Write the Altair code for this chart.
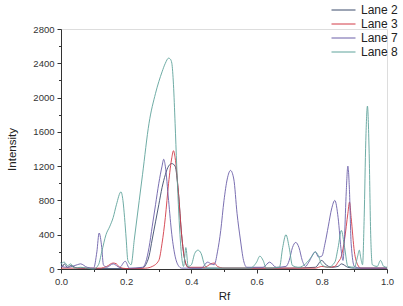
import altair as alt
import pandas as pd

# Lane 2 (dark navy)
lane2_x = [0.0, 0.005, 0.01, 0.02, 0.03, 0.05, 0.10, 0.20, 0.25, 0.26, 0.27, 0.28, 0.29, 0.30, 0.31, 0.32, 0.33, 0.34, 0.35, 0.36, 0.37, 0.38, 0.39, 0.40, 0.50, 0.70, 0.78, 0.80, 0.81, 0.83, 0.85, 0.86, 0.88, 0.90, 0.95, 1.0]
lane2_y = [80, 30, 60, 20, 40, 10, 5, 5, 10, 50, 150, 350, 550, 750, 950, 1100, 1200, 1230, 1200, 900, 400, 100, 20, 10, 10, 10, 20, 100, 60, 20, 30, 60, 20, 10, 10, 10]

# Lane 3 (red)
lane3_x = [0.0, 0.12, 0.14, 0.16, 0.17, 0.18, 0.20, 0.26, 0.28, 0.30, 0.31, 0.32, 0.33, 0.34, 0.345, 0.35, 0.36, 0.37, 0.38, 0.39, 0.44, 0.46, 0.47, 0.48, 0.50, 0.78, 0.80, 0.82, 0.84, 0.85, 0.86, 0.87, 0.88, 0.885, 0.89, 0.90, 0.91, 0.92, 1.0]
lane3_y = [10, 10, 30, 70, 60, 20, 5, 10, 30, 100, 300, 600, 1000, 1300, 1380, 1300, 900, 400, 100, 20, 20, 60, 70, 30, 10, 10, 30, 20, 30, 80, 150, 350, 650, 780, 600, 200, 50, 10, 10]

# Lane 7 (purple-blue)
lane7_x = [0.0, 0.02, 0.05, 0.06, 0.08, 0.10, 0.11, 0.117, 0.125, 0.13, 0.14, 0.16, 0.18, 0.197, 0.21, 0.25, 0.26, 0.27, 0.28, 0.29, 0.30, 0.31, 0.315, 0.32, 0.33, 0.34, 0.35, 0.36, 0.37, 0.43, 0.45, 0.46, 0.47, 0.48, 0.49, 0.50, 0.51, 0.52, 0.53, 0.54, 0.55, 0.56, 0.57, 0.62, 0.64, 0.66, 0.69, 0.70, 0.71, 0.72, 0.73, 0.74, 0.75, 0.76, 0.78, 0.79, 0.80, 0.81, 0.82, 0.83, 0.84, 0.85, 0.86, 0.865, 0.87, 0.875, 0.88, 0.885, 0.89, 0.90, 0.92, 1.0]
lane7_y = [30, 20, 50, 60, 20, 10, 200, 420, 250, 50, 20, 60, 20, 90, 10, 20, 80, 250, 500, 750, 1000, 1200, 1280, 1200, 800, 400, 150, 40, 10, 10, 80, 60, 50, 200, 450, 800, 1050, 1150, 1050, 650, 350, 100, 20, 20, 80, 20, 30, 100, 250, 310, 250, 100, 30, 80, 200, 140, 150, 300, 500, 700, 800, 600, 200, 100, 400, 900, 1200, 900, 300, 30, 10, 10]

# Lane 8 (teal)
lane8_x = [0.0, 0.01, 0.02, 0.03, 0.04, 0.06, 0.08, 0.10, 0.115, 0.125, 0.138, 0.15, 0.16, 0.17, 0.184, 0.19, 0.195, 0.20, 0.205, 0.215, 0.225, 0.24, 0.25, 0.27, 0.29, 0.31, 0.32, 0.33, 0.335, 0.34, 0.345, 0.35, 0.355, 0.36, 0.365, 0.37, 0.376, 0.383, 0.39, 0.40, 0.41, 0.42, 0.43, 0.44, 0.45, 0.50, 0.58, 0.60, 0.61, 0.62, 0.63, 0.67, 0.68, 0.69, 0.70, 0.71, 0.73, 0.75, 0.77, 0.78, 0.79, 0.80, 0.82, 0.84, 0.85, 0.86, 0.87, 0.88, 0.90, 0.91, 0.915, 0.92, 0.925, 0.93, 0.935, 0.94, 0.945, 0.95, 0.955, 0.97, 0.98, 0.99, 1.0]
lane8_y = [60, 80, 40, 60, 10, 20, 10, 0, 50, 200, 400, 500, 600, 750, 900, 800, 600, 350, 100, 50, 350, 800, 1100, 1700, 2050, 2300, 2400, 2460, 2450, 2400, 2150, 1700, 1200, 750, 400, 150, 30, 250, 30, 50, 180, 220, 180, 50, 10, 10, 10, 80, 150, 100, 10, 20, 250, 400, 250, 40, 20, 60, 150, 200, 150, 50, 20, 80, 250, 450, 250, 30, 20, 150, 220, 120, 50, 600, 1500, 1900, 1400, 400, 50, 30, 100, 30, 20]

lanes = ["Lane 2", "Lane 3", "Lane 7", "Lane 8"]
colors = ["#3b4a6b", "#d23a46", "#6b5fa8", "#5fa39b"]

frames = []
for name, xs, ys in [("Lane 2", lane2_x, lane2_y), ("Lane 3", lane3_x, lane3_y),
                     ("Lane 7", lane7_x, lane7_y), ("Lane 8", lane8_x, lane8_y)]:
    frames.append(pd.DataFrame({"Rf": xs, "Intensity": ys, "Lane": name}))
df = pd.concat(frames, ignore_index=True)

font = "Liberation Sans"

chart = alt.Chart(df).mark_line(strokeWidth=0.9, interpolate="monotone").encode(
    x=alt.X("Rf:Q", title="Rf",
            scale=alt.Scale(domain=[0, 1], nice=False),
            axis=alt.Axis(values=[0, 0.1, 0.2, 0.3, 0.4, 0.5, 0.6, 0.7, 0.8, 0.9, 1.0],
                          labelExpr="round(datum.value*10) % 2 == 0 ? format(datum.value, '.1f') : ''",
                          tickSize={"condition": {"test": "round(datum.value*10) % 2 == 0", "value": 4}, "value": 2.5},
                          labelFlush=False,
                          grid=False, domainColor="#333", tickColor="#333",
                          labelColor="#333", labelFontSize=9.5, labelFont=font,
                          titleFont=font, titleFontSize=11.5, titleFontWeight="normal",
                          titleColor="#222", titlePadding=5, labelPadding=3)),
    y=alt.Y("Intensity:Q", title="Intensity",
            scale=alt.Scale(domain=[0, 2800], nice=False),
            axis=alt.Axis(values=list(range(0, 2801, 200)),
                          labelExpr="datum.value % 400 == 0 ? datum.label : ''",
                          format="d", labelFlush=False,
                          tickSize={"condition": {"test": "datum.value % 400 == 0", "value": 4}, "value": 2.5},
                          grid=False, domainColor="#333", tickColor="#333",
                          labelColor="#333", labelFontSize=9.5, labelFont=font,
                          titleFont=font, titleFontSize=11.5, titleFontWeight="normal",
                          titleColor="#222", titlePadding=15, labelPadding=3)),
    color=alt.Color("Lane:N", scale=alt.Scale(domain=lanes, range=colors),
                    legend=alt.Legend(title=None, orient="none", legendX=270, legendY=-26,
                                      symbolType="stroke", symbolSize=576, symbolStrokeWidth=1,
                                      clipHeight=14, rowPadding=0,
                                      labelFont=font, labelFontSize=12, labelColor="#222",
                                      labelOffset=5)),
    order="Lane:N",
).properties(
    width=326, height=240,
    padding={"left": 61, "top": 29, "right": 16, "bottom": 37},
    autosize=alt.AutoSizeParams(type="none"),
).configure_view(stroke=None).configure(background="white")

chart.save("out.html", embed_options={"renderer": "svg", "actions": False})
